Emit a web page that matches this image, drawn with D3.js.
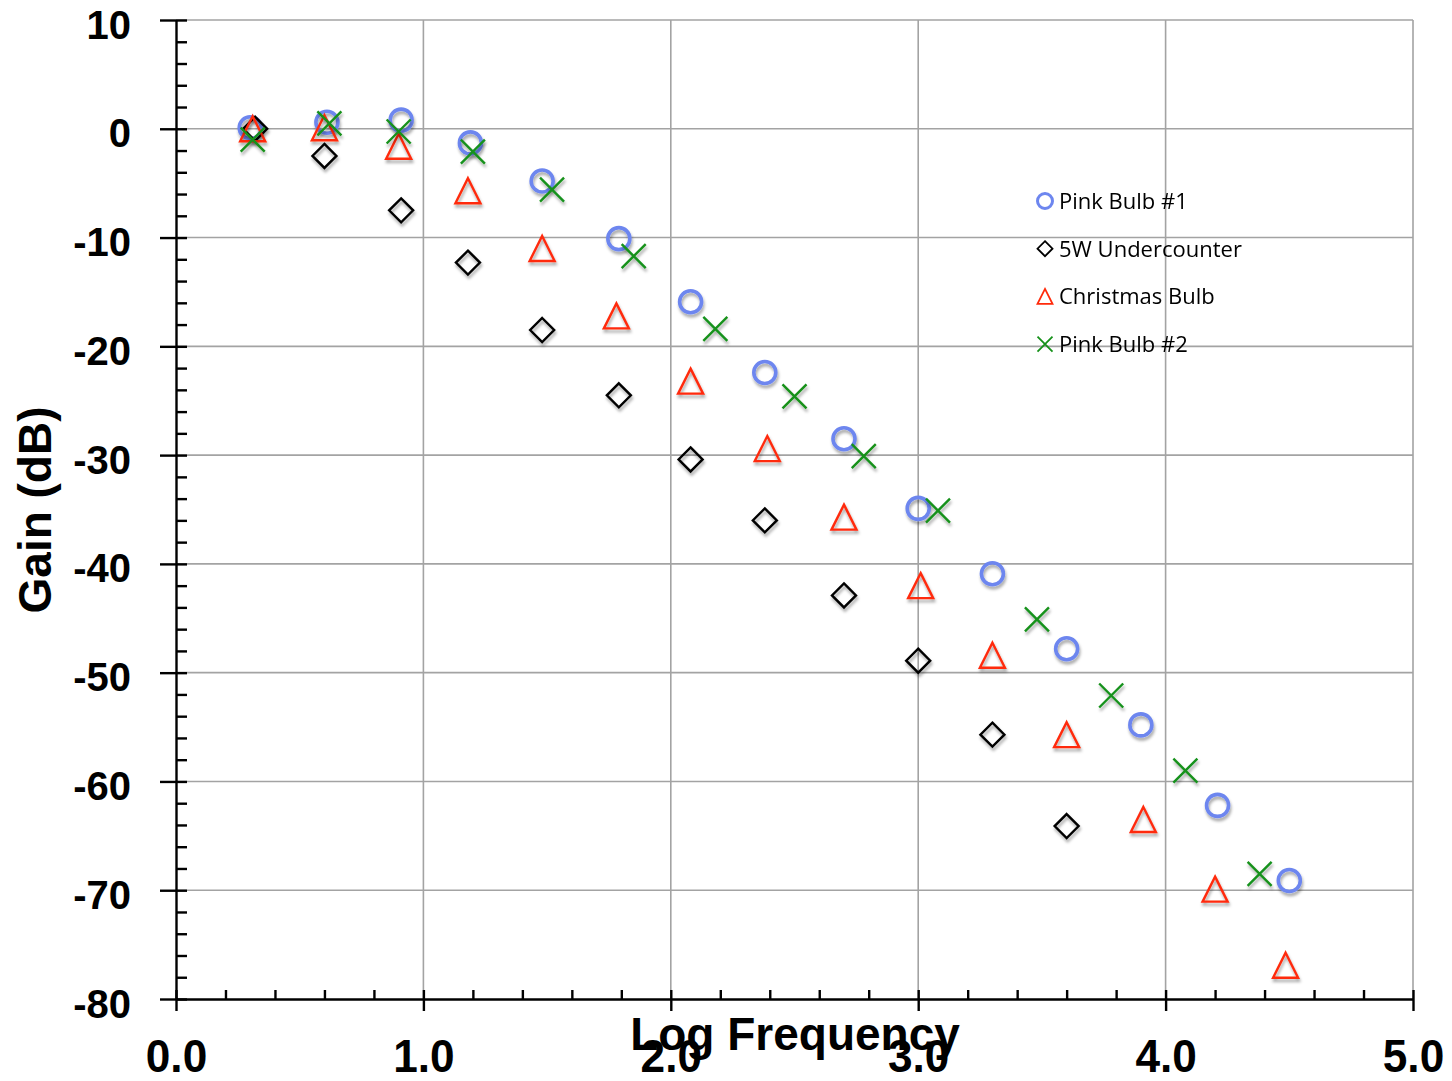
<!DOCTYPE html>
<html>
<head>
<meta charset="utf-8">
<script src="https://cdn.jsdelivr.net/npm/d3@7"></script>
<style>
	body { margin: 0; background: #fff; }
	svg { display: block; }
	.grid line { stroke: #a3a3a3; stroke-width: 1.6; }
	.axis path, .axis line { stroke: #000; stroke-width: 2.4; }
	.tickLab { font-family: "Liberation Sans", Arial, sans-serif; font-weight: bold; fill: #000; }
	.legend text { font-family: "Open Sans", "Noto Sans", sans-serif; font-size: 22px; fill: #000; }
</style>
</head>
<body>
<div id="chart"></div>
<script>
// x = log frequency, y = gain (dB)
var xPink1 = [0.30, 0.61, 0.91, 1.19, 1.48, 1.79, 2.08, 2.38, 2.70, 3.00, 3.30, 3.60, 3.90, 4.21, 4.50]
	, gainPink1 = [0.1, 0.6, 0.8, -1.3, -4.8, -10.1, -15.9, -22.4, -28.5, -34.9, -40.9, -47.8, -54.8, -62.2, -69.1]
	, xUnder = [0.32, 0.60, 0.91, 1.18, 1.48, 1.79, 2.08, 2.38, 2.70, 3.00, 3.30, 3.60]
	, gainUnder = [0.0, -2.5, -7.5, -12.3, -18.5, -24.5, -30.4, -36.0, -42.9, -48.9, -55.7, -64.1]
	, xXmas = [0.31, 0.60, 0.90, 1.18, 1.48, 1.78, 2.08, 2.39, 2.70, 3.01, 3.30, 3.60, 3.91, 4.20, 4.485]
	, gainXmas = [0.0, 0.1, -1.6, -5.7, -11.0, -17.2, -23.2, -29.4, -35.7, -42.0, -48.4, -55.7, -63.5, -69.9, -76.9]
	, xPink2 = [0.31, 0.62, 0.90, 1.20, 1.52, 1.85, 2.18, 2.50, 2.78, 3.08, 3.48, 3.78, 4.08, 4.38]
	, gainPink2 = [-1.0, 0.5, -0.25, -2.1, -5.6, -11.7, -18.4, -24.6, -30.1, -35.1, -45.1, -52.1, -59.0, -68.5]

	, seriesNames = ['Pink Bulb #1', '5W Undercounter', 'Christmas Bulb', 'Pink Bulb #2']
	, xTicks = [0, 1, 2, 3, 4, 5]
	, yTicks = [10, 0, -10, -20, -30, -40, -50, -60, -70, -80]
	;

var W = 1452, H = 1081
	, pLeft = 176, pRight = 1413, pTop = 20, pBottom = 999

	, x = d3.scaleLinear().domain([0, 5]).range([pLeft, pRight])
	, y = d3.scaleLinear().domain([-80, 10]).range([pBottom, pTop])

	, series = [
		{ name: seriesNames[0], shape: 'circle', color: '#6d86ef', xs: xPink1, ys: gainPink1 },
		{ name: seriesNames[1], shape: 'diamond', color: '#000', xs: xUnder, ys: gainUnder },
		{ name: seriesNames[2], shape: 'triangle', color: '#ff2a0a', xs: xXmas, ys: gainXmas },
		{ name: seriesNames[3], shape: 'x', color: '#16911a', xs: xPink2, ys: gainPink2 }
	]
	;

// marker outline, s = half size
function marker(shape, s){
	if( shape == 'circle' ) return d3.arc()({ innerRadius: 0, outerRadius: s, startAngle: 0, endAngle: 2 * Math.PI });
	if( shape == 'diamond' ) return 'M0,'+ (-s) +'L'+ s +',0L0,'+ s +'L'+ (-s) +',0Z';
	if( shape == 'triangle' ) return 'M0,'+ (-s) +'L'+ s +','+ s +'L'+ (-s) +','+ s +'Z';
	return 'M'+ (-s) +','+ (-s) +'L'+ s +','+ s +'M'+ (-s) +','+ s +'L'+ s +','+ (-s);
}
var markSize = { circle: 11, diamond: 12, triangle: 12.5, x: 12 }
	, markWidth = { circle: 3.6, diamond: 2.4, triangle: 2.4, x: 2.4 }
	;

var svg = d3.select('#chart').append('svg').attr('width', W).attr('height', H);

svg.append('defs').append('filter').attr('id', 'shadow')
	.attr('x', '-50%').attr('y', '-50%').attr('width', '200%').attr('height', '200%')
	.append('feDropShadow').attr('dx', 1).attr('dy', 3).attr('stdDeviation', 1.6)
	.attr('flood-color', '#000').attr('flood-opacity', 0.35);

// grid
var grid = svg.append('g').attr('class', 'grid');
grid.selectAll('.gx').data(xTicks.slice(1)).enter().append('line')
	.attr('x1', d => x(d)).attr('x2', d => x(d)).attr('y1', pTop).attr('y2', pBottom);
grid.selectAll('.gy').data(yTicks.slice(0, -1)).enter().append('line')
	.attr('x1', pLeft).attr('x2', pRight).attr('y1', d => y(d)).attr('y2', d => y(d));

// minor ticks (inward)
var minorX = d3.range(0, 5.001, 0.2).filter(d => Math.abs(d - Math.round(d)) > 0.01)
	, minorY = d3.range(-80, 10.001, 2).filter(d => d % 10 != 0)
	;
svg.append('g').attr('class', 'axis').attr('transform', 'translate(0,'+ pBottom +')')
	.call(d3.axisTop(x).tickValues(minorX).tickSize(9).tickFormat('').tickSizeOuter(0))
	.select('.domain').remove();
svg.append('g').attr('class', 'axis').attr('transform', 'translate('+ pLeft +',0)')
	.call(d3.axisRight(y).tickValues(minorY).tickSize(11).tickFormat('').tickSizeOuter(0))
	.select('.domain').remove();

// major axes
var xAxis = svg.append('g').attr('class', 'axis').attr('transform', 'translate(0,'+ pBottom +')')
	.call(d3.axisBottom(x).tickValues(xTicks).tickSize(12).tickSizeOuter(0).tickFormat(d3.format('.1f')));
xAxis.selectAll('.tick line').attr('y1', -9);
xAxis.selectAll('.tick text').attr('class', 'tickLab').attr('font-size', 47)
	.attr('y', 0).attr('dy', 0).attr('fill', '#000')
	.attr('transform', 'translate(0,73) scale(0.94,1)');

var yAxis = svg.append('g').attr('class', 'axis').attr('transform', 'translate('+ pLeft +',0)')
	.call(d3.axisLeft(y).tickValues(yTicks).tickSize(16).tickSizeOuter(0).tickFormat(d => String(d)));
yAxis.selectAll('.tick line').attr('x2', -16).attr('x1', 11);
yAxis.selectAll('.tick text').attr('class', 'tickLab').attr('font-size', 40)
	.attr('x', -45).attr('dy', '0.45em').attr('fill', '#000');

// axis titles
svg.append('text').attr('class', 'tickLab').attr('font-size', 46)
	.attr('x', 795).attr('y', 1050).attr('text-anchor', 'middle')
	.text('Log Frequency');
svg.append('text').attr('class', 'tickLab').attr('font-size', 46)
	.attr('text-anchor', 'middle').attr('transform', 'translate(51,510) rotate(-90)')
	.text('Gain (dB)');

// points
series.forEach(function(s){
	svg.append('g').attr('filter', 'url(#shadow)')
		.selectAll('path').data(s.xs.map((v, i) => [v, s.ys[i]])).enter().append('path')
		.attr('d', marker(s.shape, markSize[s.shape]))
		.attr('transform', d => 'translate('+ x(d[0]) +','+ y(d[1]) +')')
		.attr('fill', 'none').attr('stroke', s.color).attr('stroke-width', markWidth[s.shape]);
});

// legend
var legend = svg.append('g').attr('class', 'legend').attr('transform', 'translate(1045,201)')
	, row = legend.selectAll('g').data(series).enter().append('g')
		.attr('transform', (d, i) => 'translate(0,'+ (i * 47.7) +')')
	;
row.append('path')
	.attr('d', d => marker(d.shape, 7.5))
	.attr('fill', 'none').attr('stroke', d => d.color)
	.attr('stroke-width', d => d.shape == 'circle' ? 3 : 1.8);
row.append('text').attr('x', 14).attr('dy', '0.36em').text(d => d.name);
</script>
</body>
</html>
